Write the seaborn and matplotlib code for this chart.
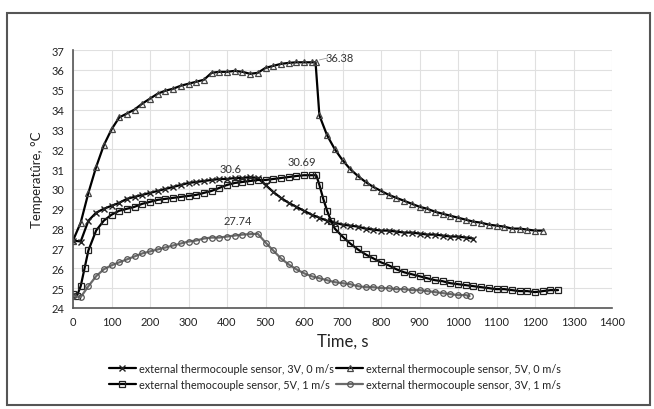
import matplotlib
matplotlib.use("Agg")
import matplotlib.pyplot as plt
import seaborn as sns
import pandas as pd
from matplotlib.patches import Rectangle

# ---- data ----
t1 = [0, 20, 40, 60, 80, 100, 120, 140, 160, 180, 200, 220, 240, 260, 280, 300, 320, 340, 360, 380,
      400, 420, 440, 460, 480, 500, 520, 540, 560, 580, 600, 620, 640, 660, 680, 700, 720, 740, 760,
      780, 800, 820, 840, 860, 880, 900, 920, 940, 960, 980, 1000, 1020, 1040]
y1 = [27.4, 27.35, 28.4, 28.8, 29.0, 29.15, 29.3, 29.5, 29.6, 29.7, 29.8, 29.9, 30.0, 30.1, 30.2,
      30.3, 30.35, 30.4, 30.45, 30.5, 30.5, 30.55, 30.55, 30.6, 30.55, 30.2, 29.85, 29.55, 29.3, 29.1,
      28.9, 28.7, 28.55, 28.4, 28.3, 28.2, 28.15, 28.1, 28.0, 27.95, 27.9, 27.9, 27.85, 27.8, 27.8,
      27.75, 27.7, 27.7, 27.65, 27.6, 27.6, 27.55, 27.5]

t2 = [0, 20, 40, 60, 80, 100, 120, 140, 160, 180, 200, 220, 240, 260, 280, 300, 320, 340, 360, 380,
      400, 420, 440, 460, 480, 500, 520, 540, 560, 580, 600, 620, 630, 640, 660, 680, 700, 720, 740,
      760, 780, 800, 820, 840, 860, 880, 900, 920, 940, 960, 980, 1000, 1020, 1040, 1060, 1080, 1100,
      1120, 1140, 1160, 1180, 1200, 1220]
y2 = [27.4, 28.3, 29.8, 31.1, 32.2, 33.0, 33.6, 33.8, 34.0, 34.3, 34.55, 34.8, 34.95, 35.05, 35.2,
      35.3, 35.4, 35.5, 35.85, 35.9, 35.9, 35.95, 35.9, 35.8, 35.85, 36.1, 36.2, 36.3, 36.35, 36.38,
      36.38, 36.38, 36.38, 33.7, 32.7, 32.0, 31.45, 31.0, 30.65, 30.35, 30.1, 29.9, 29.7, 29.55, 29.4,
      29.25, 29.1, 29.0, 28.85, 28.75, 28.65, 28.55, 28.45, 28.35, 28.3, 28.2, 28.15, 28.1, 28.0,
      28.0, 27.95, 27.9, 27.9]

t3 = [0, 10, 20, 30, 40, 60, 80, 100, 120, 140, 160, 180, 200, 220, 240, 260, 280, 300, 320, 340,
      360, 380, 400, 420, 440, 460, 480, 500, 520, 540, 560, 580, 600, 620, 632, 640, 650, 660, 670,
      680, 700, 720, 740, 760, 780, 800, 820, 840, 860, 880, 900, 920, 940, 960, 980, 1000, 1020,
      1040, 1060, 1080, 1100, 1120, 1140, 1160, 1180, 1200, 1220, 1240, 1260]
y3 = [24.7, 24.6, 25.1, 26.0, 26.9, 27.9, 28.4, 28.7, 28.9, 29.0, 29.1, 29.25, 29.35, 29.45, 29.5,
      29.55, 29.6, 29.65, 29.7, 29.8, 29.9, 30.05, 30.2, 30.3, 30.35, 30.4, 30.45, 30.45, 30.5, 30.55,
      30.6, 30.65, 30.69, 30.69, 30.69, 30.2, 29.5, 28.9, 28.4, 28.0, 27.6, 27.25, 26.95, 26.7, 26.5,
      26.3, 26.15, 25.95, 25.8, 25.7, 25.6, 25.5, 25.4, 25.35, 25.25, 25.2, 25.15, 25.1, 25.05, 25.0,
      24.95, 24.95, 24.9, 24.85, 24.85, 24.8, 24.85, 24.9, 24.9]

t4 = [0, 20, 40, 60, 80, 100, 120, 140, 160, 180, 200, 220, 240, 260, 280, 300, 320, 340, 360, 380,
      400, 420, 440, 460, 480, 500, 520, 540, 560, 580, 600, 620, 640, 660, 680, 700, 720, 740, 760,
      780, 800, 820, 840, 860, 880, 900, 920, 940, 960, 980, 1000, 1020, 1030]
y4 = [24.6, 24.55, 25.1, 25.6, 25.95, 26.15, 26.3, 26.45, 26.6, 26.75, 26.85, 26.95, 27.05, 27.15,
      27.25, 27.35, 27.4, 27.5, 27.55, 27.55, 27.6, 27.65, 27.7, 27.72, 27.74, 27.3, 26.9, 26.5, 26.2,
      25.95, 25.75, 25.6, 25.5, 25.4, 25.3, 25.25, 25.2, 25.1, 25.05, 25.05, 25.0, 25.0, 24.95, 24.95,
      24.9, 24.9, 24.85, 24.8, 24.75, 24.7, 24.65, 24.65, 24.6]

labels = ["external thermocouple sensor, 3V, 0 m/s",
          "external thermocouple sensor, 5V, 0 m/s",
          "external themocouple sensor, 5V, 1 m/s",
          "external thermocouple sensor, 3V, 1 m/s"]
peak_labels = ["30.6", "36.38", "30.69", "27.74"]
x_ticks = list(range(0, 1401, 100))
y_ticks = list(range(24, 38))

# ---- styling ----
sns.set_theme(style="white")
plt.rcParams['font.family'] = ['Lato', 'DejaVu Sans']

fig = plt.figure(figsize=(6.54, 4.10), dpi=100)
ax = fig.add_axes([73/654, 1-309/410, (612-73)/654, (309-51)/410])

styles = [
    dict(color="black", marker="x", markersize=4, mew=1.0, mfc="#222222", mec="#222222"),
    dict(color="black", marker="^", markersize=4, mew=0.9, mfc="none", mec="#444444"),
    dict(color="black", marker="s", markersize=4, mew=0.9, mfc="none", mec="#222222"),
    dict(color="#6a6a6a", marker="o", markersize=4, mew=0.9, mfc="none", mec="#555555"),
]
series = [(t1, y1), (t2, y2), (t3, y3), (t4, y4)]
for (t, y), lab, st in zip(series, labels, styles):
    df = pd.DataFrame({"t": t, "y": y})
    sns.lineplot(data=df, x="t", y="y", ax=ax, label=lab, linewidth=1.6,
                 color=st["color"], marker=st["marker"], markersize=st["markersize"],
                 markeredgewidth=st["mew"], markerfacecolor=st["mfc"],
                 markeredgecolor=st["mec"])

ax.set_xlim(0, 1400)
ax.set_ylim(24, 37)
ax.set_xticks(x_ticks)
ax.set_yticks(y_ticks)
ax.tick_params(axis="both", labelsize=8, length=0, pad=6, colors="#222222")
ax.grid(True, color="#e0e0e0", linewidth=0.8)
for s in ["top", "right"]:
    ax.spines[s].set_visible(False)
for s in ["left", "bottom"]:
    ax.spines[s].set_color("#555555")
    ax.spines[s].set_linewidth(1.2)

ax.set_xlabel("Time, s", fontsize=12, labelpad=4, color="#222222")
ax.set_ylabel("Temperatûre, °C", fontsize=9.5, labelpad=6, color="#222222")

# peak annotations
ax.text(408, 31.05, peak_labels[0], fontsize=8, ha="center", va="center", color="#333333")
ax.text(694, 36.6, peak_labels[1], fontsize=8, ha="center", va="center", color="#333333")
ax.plot([640, 662], [36.5, 36.6], color="#999999", linewidth=0.6)
ax.text(595, 31.4, peak_labels[2], fontsize=8, ha="center", va="center", color="#333333")
ax.text(427, 28.4, peak_labels[3], fontsize=8, ha="center", va="center", color="#333333")

h, l = ax.get_legend_handles_labels()
order = [0, 2, 1, 3]
ax.legend([h[i] for i in order], [l[i] for i in order], ncol=2, frameon=False,
          loc="upper center", bbox_to_anchor=(0.486, -0.195), fontsize=7.8,
          handlelength=2.5, handletextpad=0.3, columnspacing=0.2, labelspacing=0.45,
          borderaxespad=0, labelcolor="#222222")

fig.patches.append(Rectangle((7/654, 1-406/410), (650-7)/654, (406-14)/410,
                             transform=fig.transFigure, fill=False, edgecolor="#555555",
                             linewidth=1.5))

fig.savefig("out.png", dpi=100, facecolor="white")
